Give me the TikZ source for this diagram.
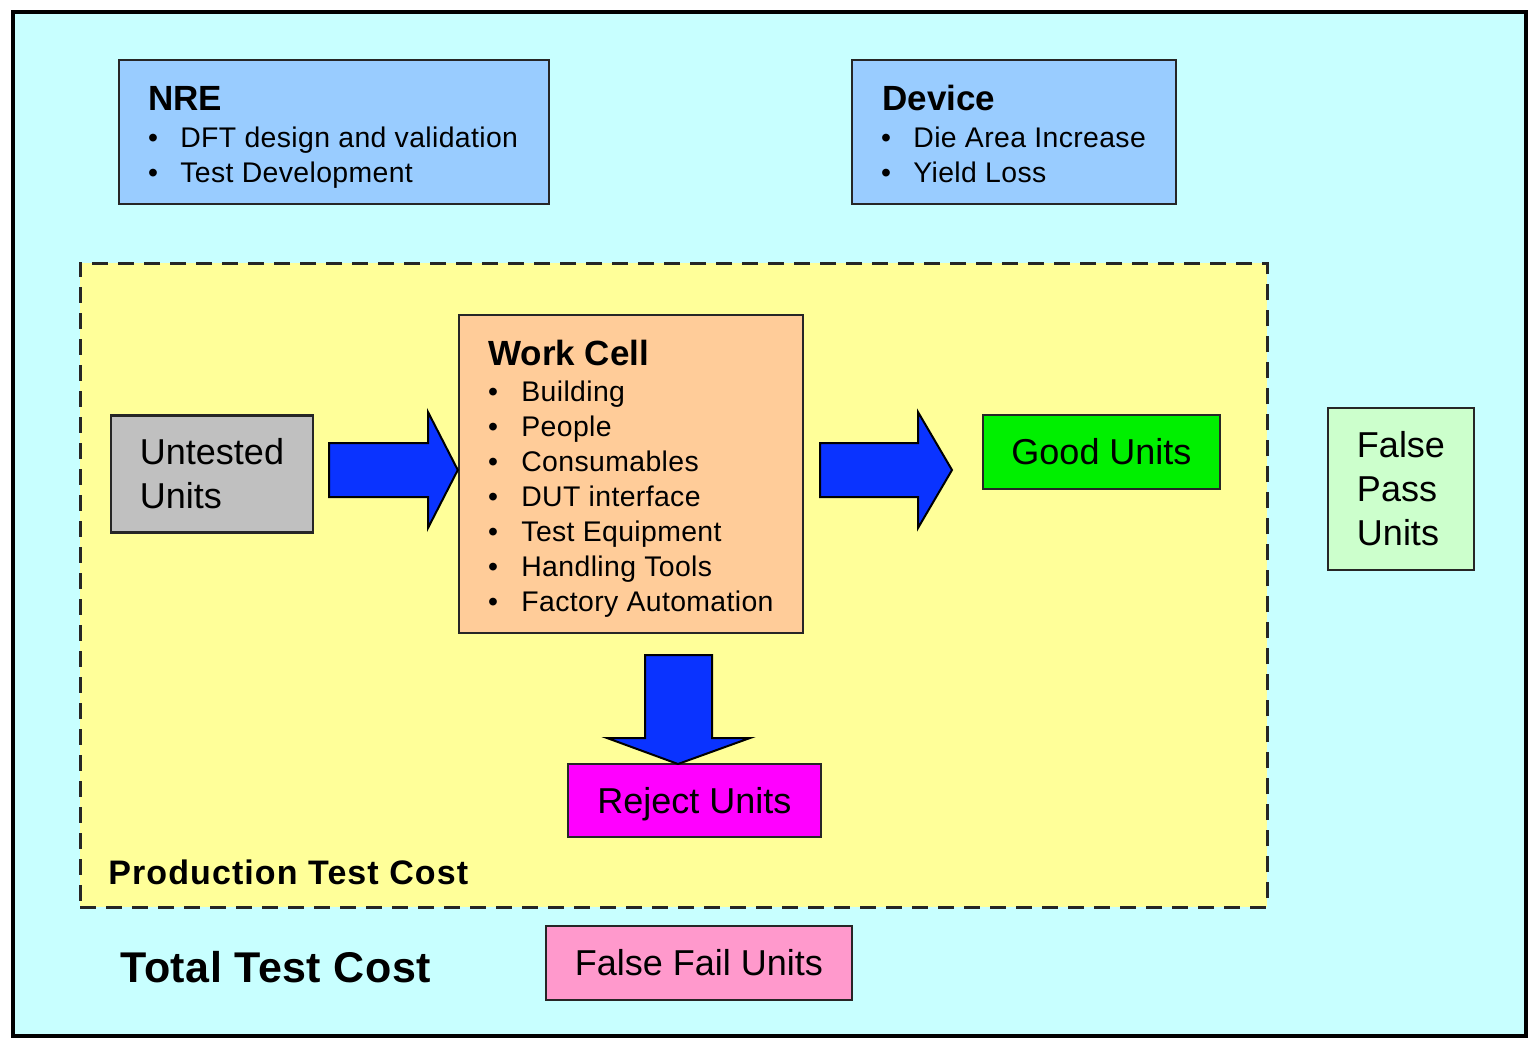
\documentclass[tikz,border=0pt]{standalone}
\usepackage{fontspec}
\setmainfont{Liberation Sans}
\definecolor{bgcyan}{HTML}{C8FFFF}
\definecolor{nreblue}{HTML}{99CCFF}
\definecolor{prodyellow}{HTML}{FFFF99}
\definecolor{cellpeach}{HTML}{FFCC99}
\definecolor{untestgrey}{HTML}{C0C0C0}
\definecolor{goodgreen}{HTML}{00F000}
\definecolor{passgreen}{HTML}{CCFFCC}
\definecolor{rejectmag}{HTML}{FF00FF}
\definecolor{failpink}{HTML}{FF99CC}
\definecolor{arrowblue}{HTML}{0A33FF}
\begin{document}
\begin{tikzpicture}[x=0.5pt,y=-0.5pt,
  box/.style={draw=black!85, line width=1.2pt, inner sep=0pt},
  lbl/.style={font=\fontsize{18}{22}\selectfont, align=left},
  head/.style={font=\fontsize{17.5}{21}\bfseries\selectfont, anchor=base west, inner sep=0pt},
  item/.style={font=\fontsize{14.2}{17.5}\selectfont\addfontfeature{LetterSpace=1.3}, anchor=base west, inner sep=0pt},
  dot/.style={font=\fontsize{14.2}{17.5}\selectfont, anchor=base, inner sep=0pt},
  blockarrow/.style={fill=arrowblue, draw=black, line width=1pt, line join=miter}]

% canvas and outer frame
\useasboundingbox (0,0) rectangle (1528,1039);
\fill[white] (0,0) rectangle (1528,1039);
\node[draw=black, line width=2pt, fill=bgcyan, inner sep=0pt,
      minimum width=756.5pt, minimum height=512pt] (total) at (769.5,524) {};

% production test cost area
\node[draw=black!85, line width=1.5pt, dash pattern=on 8pt off 5pt, fill=prodyellow,
      inner sep=0pt, minimum width=593.5pt, minimum height=322pt] (prod) at (673.5,585) {};

% cost boxes at the top
\node[box, fill=nreblue, minimum width=215pt, minimum height=72pt] (nre) at (334,132) {};
\node[box, fill=nreblue, minimum width=162pt, minimum height=72pt] (device) at (1014,132) {};

\node[head] (nreT) at (148,110) {NRE};
\node[dot] (nreb1) at (153,147) {•};
\node[item] (nre1) at (180,147) {DFT design and validation};
\node[dot] (nreb2) at (153,182) {•};
\node[item] (nre2) at (180,182) {Test Development};

\node[head] (devT) at (882,110) {Device};
\node[dot] (devb1) at (886,147) {•};
\node[item] (dev1) at (913,147) {Die Area Increase};
\node[dot] (devb2) at (886,182) {•};
\node[item] (dev2) at (913,182) {Yield Loss};

% work cell
\node[box, fill=cellpeach, minimum width=172pt, minimum height=159pt] (work) at (631,474) {};
\node[head] (workT) at (488,365) {Work Cell};
\foreach \t [count=\i] in {Building, People, Consumables, DUT interface,
                          Test Equipment, Handling Tools, Factory Automation} {
  \node[dot] (wcb\i) at (493,366+35*\i) {•};
  \node[item] (wc\i) at (521,366+35*\i) {\t};
}

% unit boxes
\node[box, lbl, fill=untestgrey, minimum width=101pt, minimum height=58.5pt] (untested) at (212,474) {Untested\\Units};
\node[box, lbl, fill=goodgreen, minimum width=118.5pt, minimum height=37pt] (good) at (1101.5,452) {Good Units};
\node[box, lbl, fill=passgreen, minimum width=73pt, minimum height=81pt] (fpass) at (1401,489) {False\\Pass\\Units};
\node[box, lbl, text depth=0pt, fill=rejectmag, minimum width=126.5pt, minimum height=36.5pt] (reject) at (694.5,800.5) {Reject Units};
\node[box, lbl, fill=failpink, minimum width=153pt, minimum height=37pt] (ffail) at (699,963) {False Fail Units};

% block arrows
\draw[blockarrow] (329,443) -- (428,443) -- (428,412) -- (work.west |- 0,470)
  -- (428,528) -- (428,497) -- (329,497) -- cycle;
\draw[blockarrow] (820,443) -- (918,443) -- (918,412) -- (952,470)
  -- (918,528) -- (918,497) -- (820,497) -- cycle;
\draw[blockarrow] (645,655) -- (712,655) -- (712,738) -- (750,738)
  -- (678,764) -- (607,738) -- (645,738) -- cycle;

% area captions
\node[font=\fontsize{17}{20}\bfseries\selectfont\addfontfeature{LetterSpace=3.2}, anchor=base west, inner sep=0pt] (prodT) at (108,884) {Production Test Cost};
\node[font=\fontsize{21.5}{25}\bfseries\selectfont\addfontfeature{LetterSpace=1.2}, anchor=base west, inner sep=0pt] (totalT) at (120,982) {Total Test Cost};
\end{tikzpicture}
\end{document}
